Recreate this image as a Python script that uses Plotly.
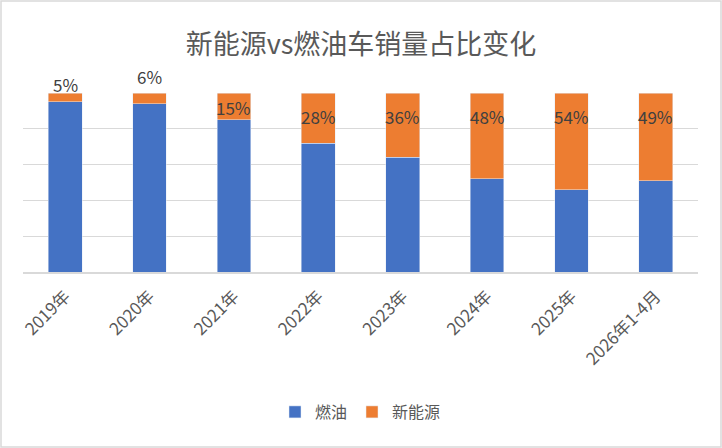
import plotly.graph_objects as go

categories = ["2019年", "2020年", "2021年", "2022年", "2023年", "2024年", "2025年", "2026年1-4月"]
new_energy = [5, 6, 15, 28, 36, 48, 54, 49]
fuel = [100 - v for v in new_energy]
label_text = [f"{v}%" for v in new_energy]

W, H = 722, 448
L, R, T, B = 23, 24, 93, 176
Y_MAX = 100

# label positions derived from values
label_y = []
for v in new_energy:
    if v < 10:
        label_y.append(Y_MAX + 4.5 + (v - 5) * 4.5)
    else:
        label_y.append(Y_MAX - min(v / 2 + 0.5, 13.4))

font_cjk = "Noto Sans CJK SC, Microsoft YaHei, sans-serif"

fig = go.Figure()
fig.add_trace(go.Bar(x=categories, y=fuel, name="燃油", marker_color="#4472C4",
                     hoverinfo="skip"))
fig.add_trace(go.Bar(x=categories, y=new_energy, name="新能源", marker_color="#ED7D31",
                     hoverinfo="skip"))

annotations = [dict(x=c, y=yv / Y_MAX, text=t, xref="x", yref="paper", showarrow=False,
                    xanchor="center", yanchor="middle",
                    font=dict(size=17, color="#404040", family=font_cjk))
               for c, yv, t in zip(categories, label_y, label_text)]

fig.update_layout(
    width=W, height=H,
    margin=dict(l=L, r=R, t=T, b=B),
    barmode="stack",
    bargap=0.6,
    paper_bgcolor="white",
    plot_bgcolor="white",
    title=dict(text="新能源vs燃油车销量占比变化", x=0.5, xanchor="center",
               y=1 - 45 / H, yanchor="middle",
               font=dict(size=27, color="#595959", family=font_cjk)),
    font=dict(family=font_cjk, color="#595959"),
    legend=dict(orientation="h", x=0.5, xanchor="center", y=-(412 - (H - B)) / (H - T - B),
                yanchor="middle", font=dict(size=16, color="#595959"),
                itemwidth=30, traceorder="normal"),
    xaxis=dict(tickangle=-45, tickfont=dict(size=17, color="#595959"),
               showline=True, linecolor="#d9d9d9", linewidth=1.5, ticks="",
               showgrid=False, ticklabelstandoff=6),
    yaxis=dict(range=[0, Y_MAX], dtick=20, showticklabels=False, gridcolor="#d9d9d9",
               gridwidth=1, zeroline=False, showline=False, fixedrange=True),
    annotations=annotations,
    shapes=[dict(type="rect", xref="paper", yref="paper",
                 x0=-(L - 1) / (W - L - R), x1=1 + (R - 1) / (W - L - R),
                 y0=-(B - 1) / (H - T - B), y1=1 + (T - 1) / (H - T - B),
                 line=dict(color="#d9d9d9", width=1.5), fillcolor="rgba(0,0,0,0)")],
)

fig.write_html("out.html")
